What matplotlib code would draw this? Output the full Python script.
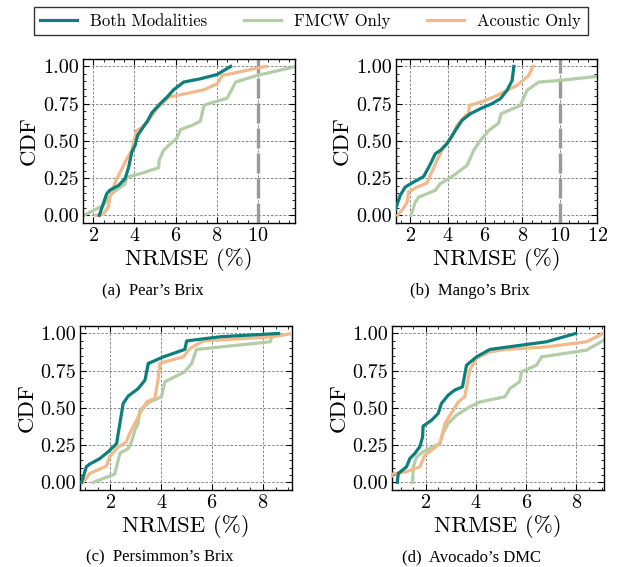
import numpy as np
import matplotlib.pyplot as plt
from matplotlib.ticker import AutoMinorLocator, FormatStrFormatter

plt.rcParams['font.family'] = 'cmr10'
plt.rcParams['axes.formatter.use_mathtext'] = True
plt.rcParams['mathtext.fontset'] = 'cm'

# couleurs des trois modalites
c_both = '#0d7f7a'
c_fmcw = '#b3cda6'
c_acou = '#f2b98a'

# (a) Pear's Brix
a_both_x = [2.29, 2.65, 2.81, 3.22, 3.54, 3.71, 3.87, 4.03, 4.15, 4.36, 4.63, 4.85, 5.25, 5.58, 5.9, 6.39, 7.2, 8.02, 8.34, 8.67]
a_both_y = [0.0, 0.145, 0.17, 0.2, 0.246, 0.32, 0.425, 0.47, 0.537, 0.58, 0.633, 0.69, 0.75, 0.794, 0.843, 0.895, 0.917, 0.946, 0.973, 1.0]
a_fmcw_x = [1.54, 2.49, 2.89, 3.22, 3.54, 3.63, 4.28, 5.17, 5.2, 5.41, 5.74, 6.07, 6.23, 6.8, 7.2, 7.37, 7.7, 8.5, 8.91, 9.97, 11.85]
a_fmcw_y = [0.0, 0.067, 0.145, 0.18, 0.21, 0.257, 0.28, 0.32, 0.37, 0.436, 0.48, 0.52, 0.577, 0.604, 0.633, 0.738, 0.754, 0.787, 0.895, 0.94, 1.0]
a_acou_x = [2.13, 2.49, 2.73, 2.81, 2.98, 3.14, 3.38, 3.63, 3.87, 3.98, 4.11, 4.36, 4.68, 5.09, 5.66, 6.07, 7.37, 8.02, 8.26, 8.83, 9.8, 10.37]
a_acou_y = [0.0, 0.01, 0.056, 0.12, 0.19, 0.246, 0.31, 0.38, 0.436, 0.503, 0.57, 0.59, 0.638, 0.716, 0.794, 0.805, 0.843, 0.884, 0.94, 0.955, 0.984, 1.0]

# (b) Mango's Brix
b_both_x = [1.1, 1.25, 1.46, 1.73, 2.18, 2.71, 3.04, 3.34, 3.61, 3.96, 4.41, 4.77, 5.21, 5.75, 6.37, 6.82, 7.18, 7.45, 7.54]
b_both_y = [0.0, 0.056, 0.134, 0.19, 0.224, 0.26, 0.336, 0.414, 0.436, 0.48, 0.57, 0.638, 0.682, 0.716, 0.75, 0.783, 0.84, 0.906, 1.0]
b_fmcw_x = [2.04, 2.27, 2.45, 3.34, 3.61, 4.32, 5.04, 5.39, 5.75, 6.2, 6.73, 6.86, 7.89, 8.25, 8.88, 10.04, 12.0, 13.0]
b_fmcw_y = [0.0, 0.09, 0.123, 0.168, 0.213, 0.268, 0.336, 0.436, 0.503, 0.57, 0.62, 0.682, 0.738, 0.84, 0.895, 0.906, 0.933, 0.946]
b_acou_x = [1.32, 1.55, 1.82, 1.91, 2.36, 2.89, 3.43, 3.61, 3.79, 4.23, 4.5, 4.95, 5.12, 5.16, 5.75, 6.46, 7.0, 7.71, 8.34, 8.57]
b_acou_y = [0.0, 0.034, 0.083, 0.157, 0.19, 0.217, 0.37, 0.414, 0.46, 0.526, 0.604, 0.67, 0.682, 0.738, 0.76, 0.794, 0.828, 0.872, 0.94, 1.0]

# (c) Persimmon's Brix
c_both_x = [0.86, 1.05, 1.18, 1.58, 1.91, 2.24, 2.37, 2.5, 2.7, 3.09, 3.36, 3.49, 3.55, 4.08, 4.93, 5.0, 6.32, 8.62]
c_both_y = [0.0, 0.105, 0.123, 0.16, 0.206, 0.26, 0.396, 0.53, 0.58, 0.63, 0.687, 0.8, 0.803, 0.843, 0.893, 0.95, 0.978, 1.0]
c_fmcw_x = [1.32, 2.17, 2.37, 2.7, 2.83, 2.96, 3.09, 3.16, 3.55, 4.01, 4.14, 4.54, 4.93, 5.2, 5.39, 8.29, 8.36]
c_fmcw_y = [0.0, 0.056, 0.195, 0.228, 0.273, 0.35, 0.396, 0.485, 0.54, 0.575, 0.676, 0.71, 0.743, 0.8, 0.893, 0.944, 0.978]
c_acou_x = [0.92, 1.18, 1.84, 1.97, 2.24, 2.63, 2.76, 3.03, 3.16, 3.42, 3.75, 3.88, 3.95, 4.87, 5.13, 5.66, 8.42, 9.17]
c_acou_y = [0.0, 0.06, 0.11, 0.172, 0.228, 0.273, 0.33, 0.418, 0.463, 0.54, 0.564, 0.698, 0.8, 0.843, 0.9, 0.95, 0.978, 1.0]

# (d) Avocado's DMC
d_both_x = [0.86, 0.9, 1.23, 1.36, 1.56, 1.76, 1.87, 1.89, 2.23, 2.49, 2.62, 2.89, 3.15, 3.46, 3.62, 4.02, 4.55, 6.8, 7.97]
d_both_y = [0.0, 0.06, 0.105, 0.16, 0.195, 0.24, 0.306, 0.378, 0.418, 0.463, 0.53, 0.586, 0.62, 0.642, 0.787, 0.843, 0.893, 0.944, 1.0]
d_fmcw_x = [1.47, 1.5, 1.63, 1.89, 2.56, 2.69, 2.89, 3.22, 3.75, 4.15, 5.15, 5.35, 5.74, 5.81, 6.41, 6.61, 8.4, 9.1, 9.3]
d_fmcw_y = [0.0, 0.105, 0.172, 0.206, 0.262, 0.33, 0.396, 0.452, 0.508, 0.54, 0.575, 0.63, 0.676, 0.743, 0.787, 0.843, 0.888, 0.955, 1.0]
d_acou_x = [0.5, 0.67, 1.23, 1.76, 1.96, 2.23, 2.56, 2.76, 3.09, 3.29, 3.55, 3.75, 4.02, 4.55, 5.21, 6.8, 8.4, 9.06]
d_acou_y = [0.0, 0.056, 0.072, 0.105, 0.183, 0.217, 0.262, 0.396, 0.485, 0.54, 0.575, 0.754, 0.832, 0.877, 0.893, 0.91, 0.944, 1.0]

panels = [
    ("(a)  Pear\u2019s Brix", (a_both_x, a_both_y), (a_fmcw_x, a_fmcw_y), (a_acou_x, a_acou_y), (1.5, 11.8), [2, 4, 6, 8, 10], True),
    ("(b)  Mango\u2019s Brix", (b_both_x, b_both_y), (b_fmcw_x, b_fmcw_y), (b_acou_x, b_acou_y), (1.25, 12), [2, 4, 6, 8, 10, 12], True),
    ("(c)  Persimmon\u2019s Brix", (c_both_x, c_both_y), (c_fmcw_x, c_fmcw_y), (c_acou_x, c_acou_y), (0.82, 9.15), [2, 4, 6, 8], False),
    ("(d)  Avocado\u2019s DMC", (d_both_x, d_both_y), (d_fmcw_x, d_fmcw_y), (d_acou_x, d_acou_y), (0.67, 9.1), [2, 4, 6, 8], False),
]

# positions des axes en fraction de figure
positions = [
    [0.133, 0.607, 0.340, 0.289],
    [0.635, 0.607, 0.322, 0.289],
    [0.129, 0.136, 0.339, 0.289],
    [0.629, 0.136, 0.339, 0.289],
]
caption_xy = [(153 / 624, 1 - 295 / 567), (470 / 624, 1 - 295 / 567),
              (160 / 624, 1 - 561 / 567), (471 / 624, 1 - 561 / 567)]

fig = plt.figure(figsize=(6.24, 5.67), dpi=100)

for i, (cap, both, fmcw, acou, xlim, xt, vline) in enumerate(panels):
    ax = fig.add_axes(positions[i])
    ax.grid(True, ls=(0, (3, 2)), lw=0.6, color='#777777')
    ax.set_axisbelow(True)
    if vline:
        ax.axvline(10, color='#999999', lw=2.4, ls=(0, (6, 1.5)), zorder=1.5)
    l_fmcw, = ax.plot(fmcw[0], fmcw[1], color=c_fmcw, lw=2.3, label='FMCW Only', zorder=2)
    l_acou, = ax.plot(acou[0], acou[1], color=c_acou, lw=2.3, label='Acoustic Only', zorder=3)
    l_both, = ax.plot(both[0], both[1], color=c_both, lw=2.3, label='Both Modalities', zorder=4)
    ax.set_xlim(*xlim)
    ax.set_ylim(-0.05, 1.05)
    ax.set_xticks(xt)
    ax.set_yticks([0, 0.25, 0.5, 0.75, 1.0])
    ax.yaxis.set_major_formatter(FormatStrFormatter('%.2f'))
    ax.xaxis.set_minor_locator(AutoMinorLocator(4))
    ax.yaxis.set_minor_locator(AutoMinorLocator(5))
    ax.tick_params(which='both', direction='in', top=True, right=True, labelsize=14.5)
    ax.tick_params(which='major', length=4, width=0.8, pad=3)
    ax.tick_params(which='minor', length=2, width=0.6)
    for s in ax.spines.values():
        s.set_linewidth(1.0)
    ax.set_xlabel('NRMSE (%)', fontsize=16.5, labelpad=2)
    ax.set_ylabel('CDF', fontsize=16.5, labelpad=3)
    fig.text(caption_xy[i][0], caption_xy[i][1], cap, ha='center', va='baseline',
             fontsize=12, family='Liberation Serif')

leg = fig.legend([l_both, l_fmcw, l_acou], ['Both Modalities', 'FMCW Only', 'Acoustic Only'],
                 loc='center', bbox_to_anchor=(0.498, 0.963), ncol=3, fontsize=12,
                 frameon=True, fancybox=False, edgecolor='black', handlelength=2.2,
                 columnspacing=2.2, borderpad=0.4)
leg.get_frame().set_linewidth(1.0)

fig.savefig('out.png', dpi=100)
